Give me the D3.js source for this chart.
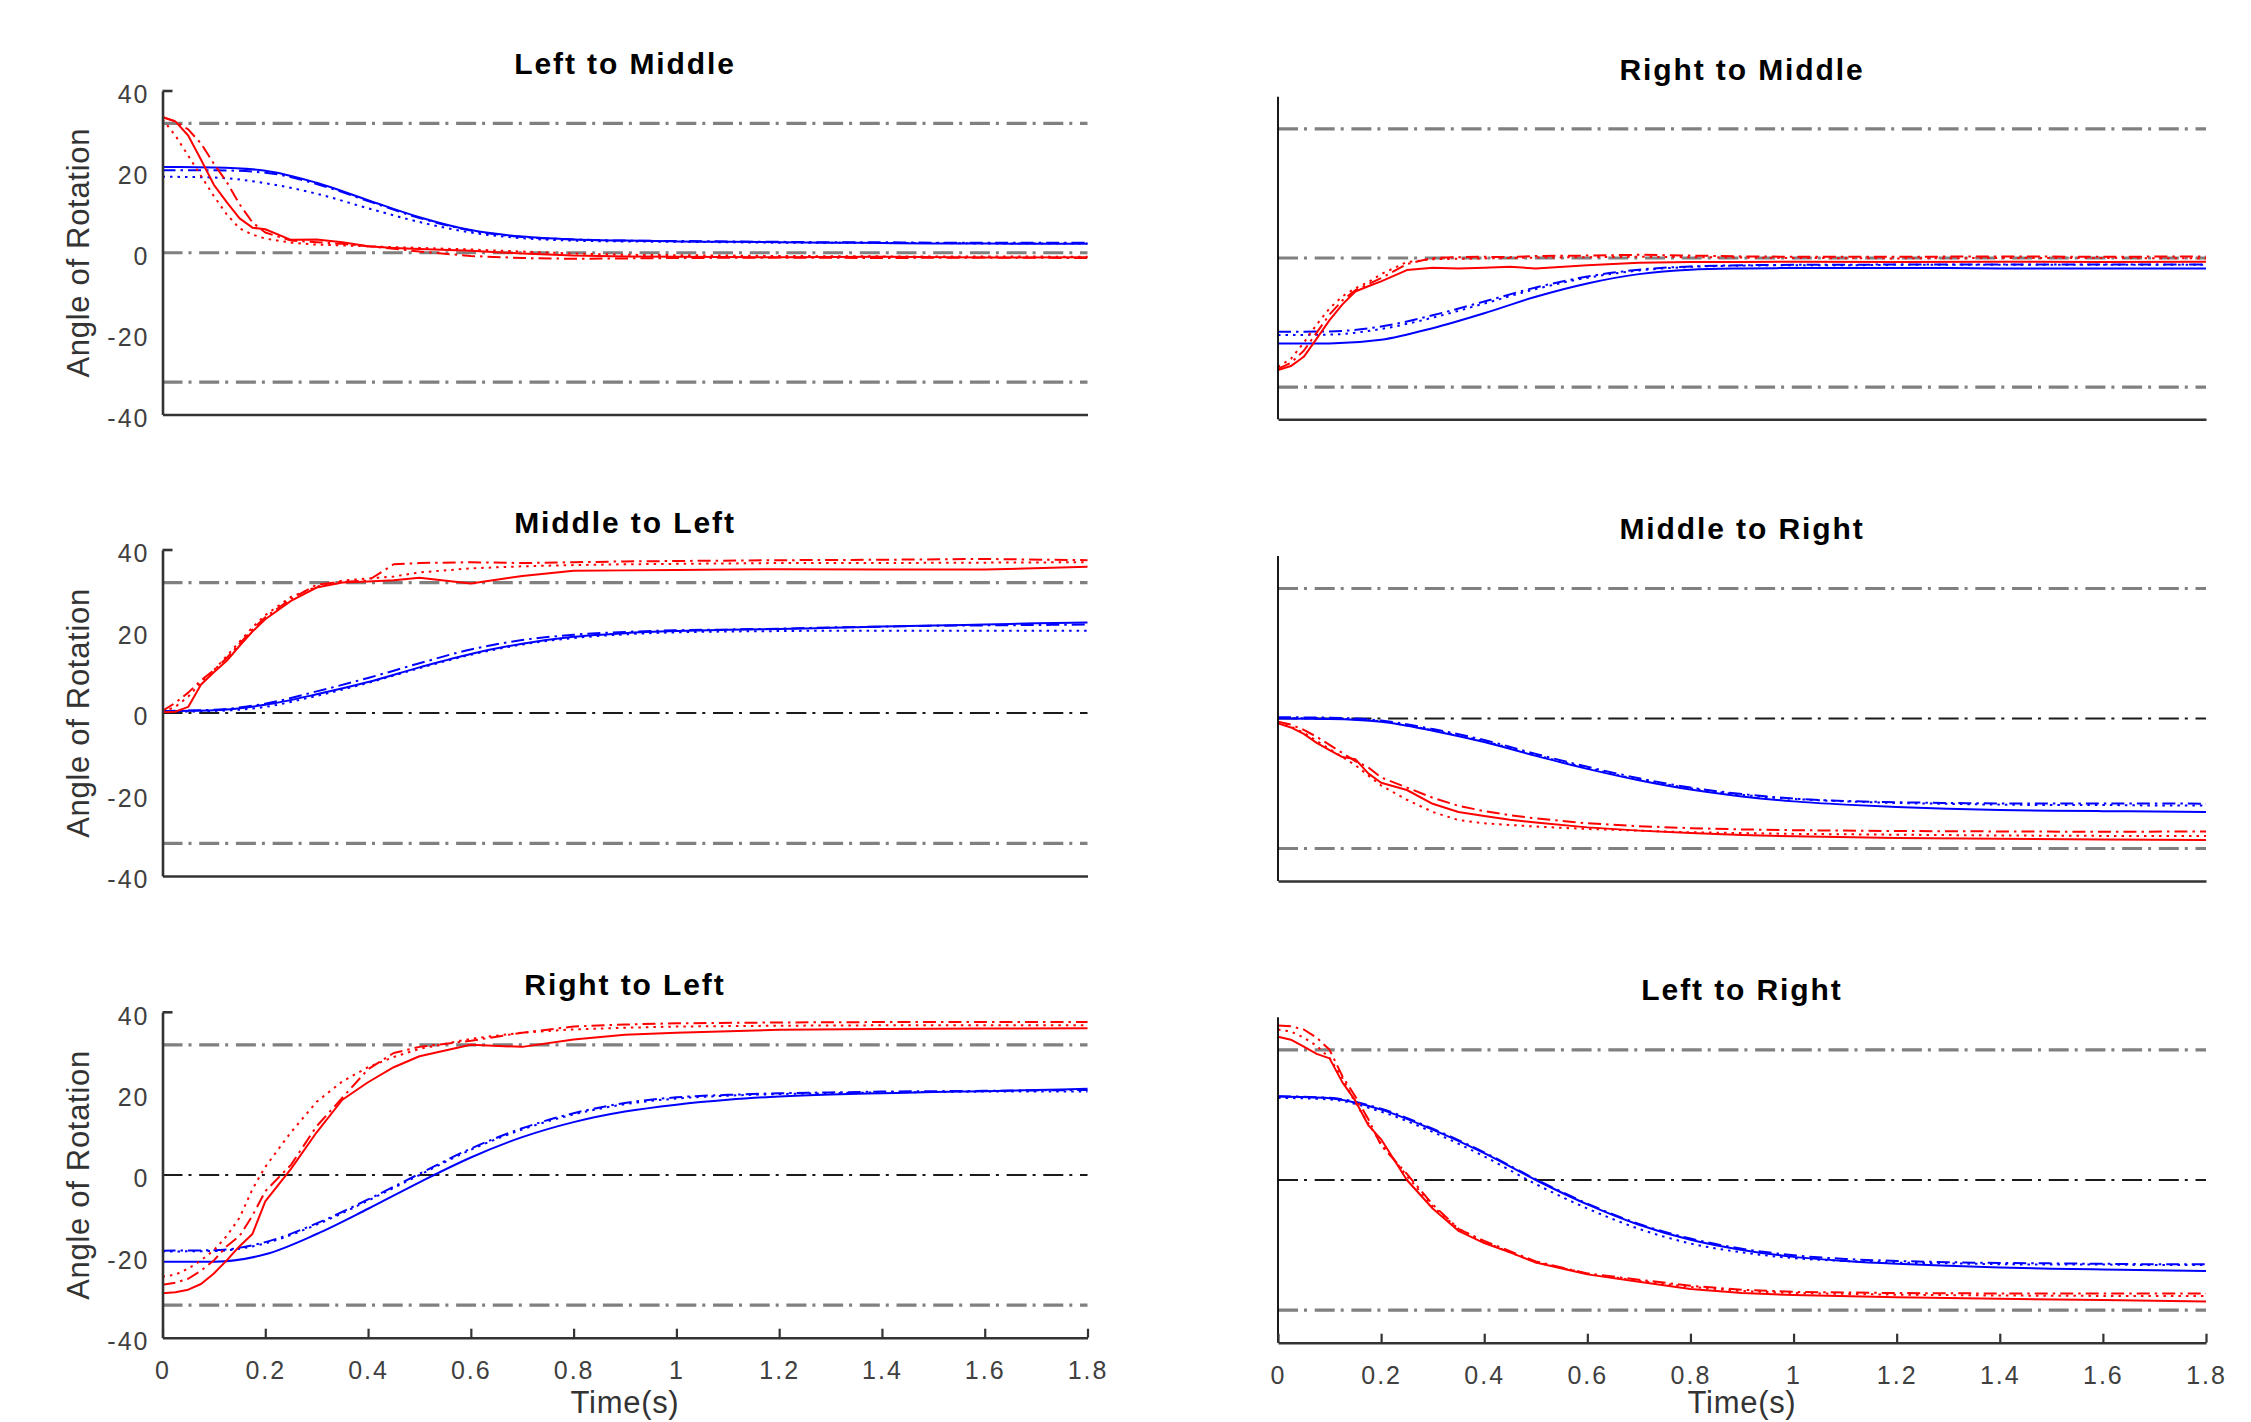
<!DOCTYPE html>
<html><head><meta charset="utf-8">
<script src="https://cdn.jsdelivr.net/npm/d3@7"></script>
<style>html,body{margin:0;padding:0;background:#fff;overflow:hidden}svg{display:block}</style>
</head><body><svg id="c" width="2251" height="1422"></svg>
<script>
// ---------- data ----------
const titles = ["Left to Middle","Right to Middle","Middle to Left","Middle to Right","Right to Left","Left to Right"];
const yTickValues = [-40,-20,0,20,40];
const xTickValues = [0,0.2,0.4,0.6,0.8,1,1.2,1.4,1.6,1.8];
const refLevels = [32,0,-32];
const timeBlue = [0,0.1,0.2,0.3,0.4,0.5,0.6,0.7,0.8,0.9,1.0,1.1,1.2,1.3,1.4,1.5,1.6,1.7,1.8];
const timeRed = [0,0.025,0.05,0.075,0.1,0.125,0.15,0.175,0.2,0.25,0.3,0.35,0.4,0.45,0.5,0.6,0.7,0.8,0.9,1.0,1.2,1.4,1.6,1.8];

// Left to Middle
const lmBlueSolid   = [21.2,21.1,20.3,17.3,13.0,8.8,5.6,4.0,3.3,3.0,2.8,2.7,2.6,2.5,2.4,2.3,2.3,2.2,2.2];
const lmBlueDashDot = [20.4,20.4,19.8,17.0,12.8,8.6,5.5,3.9,3.3,3.0,2.9,2.8,2.7,2.6,2.6,2.5,2.5,2.5,2.5];
const lmBlueDotted  = [18.8,18.6,17.2,14.6,11.0,7.6,5.0,3.6,3.0,2.8,2.7,2.6,2.5,2.5,2.4,2.4,2.3,2.3,2.3];
const lmRedSolid    = [33.6,32.5,29.0,23.0,16.8,12.5,8.5,6.2,5.8,3.2,3.3,2.6,1.6,1.2,0.9,0.5,-0.2,-0.7,-0.9,-1.0,-1.1,-1.0,-1.2,-1.1];
const lmRedDashDot  = [33.5,32.5,30.5,27.0,22.0,17.5,12.0,7.5,5.0,3.0,2.6,2.2,1.6,1.0,0.3,-0.8,-1.3,-1.5,-1.4,-1.3,-1.2,-1.3,-1.2,-1.3];
const lmRedDotted   = [33.0,29.0,24.0,19.0,14.0,9.5,6.0,4.5,3.5,2.5,2.0,1.8,1.6,1.4,1.2,0.8,0.3,-0.2,-0.5,-0.6,-0.8,-0.9,-0.9,-1.0];

// Right to Middle
const rmBlueSolid   = [-21.2,-21.2,-20.3,-17.4,-13.7,-9.6,-6.3,-4.0,-2.9,-2.6,-2.5,-2.5,-2.5,-2.5,-2.6,-2.6,-2.6,-2.6,-2.6];
const rmBlueDashDot = [-18.3,-18.2,-17.0,-14.2,-10.8,-7.3,-4.6,-2.9,-2.1,-1.8,-1.7,-1.7,-1.6,-1.6,-1.6,-1.6,-1.6,-1.6,-1.6];
const rmBlueDotted  = [-19.1,-19.0,-17.6,-14.8,-11.3,-7.7,-4.9,-3.1,-2.2,-1.9,-1.8,-1.8,-1.7,-1.7,-1.7,-1.7,-1.7,-1.7,-1.7];
const rmRedSolid    = [-27.8,-26.8,-24.5,-20.0,-15.4,-11.5,-8.3,-7.0,-5.8,-3.0,-2.4,-2.6,-2.4,-2.2,-2.6,-1.8,-1.2,-1.0,-1.0,-0.9,-1.0,-0.9,-1.0,-0.9];
const rmRedDashDot  = [-27.5,-26.0,-23.0,-18.5,-14.0,-10.5,-8.0,-6.5,-5.0,-1.5,0.0,0.2,0.3,0.2,0.5,0.6,0.8,0.6,0.4,0.3,0.3,0.4,0.3,0.4];
const rmRedDotted   = [-27.0,-25.0,-21.0,-16.5,-12.5,-9.5,-7.5,-6.0,-4.0,-1.0,-0.3,-0.2,-0.1,0.0,0.1,0.2,0.3,0.2,0.1,0.0,-0.1,0.0,0.0,-0.1];

// Middle to Left
const mlBlueSolid   = [0.5,0.7,2.0,4.6,7.6,11.2,14.5,17.0,18.7,19.6,20.1,20.4,20.6,20.9,21.2,21.5,21.7,22.0,22.2];
const mlBlueDashDot = [0.5,0.8,2.3,5.3,8.6,12.2,15.6,17.9,19.2,19.9,20.3,20.5,20.7,21.0,21.2,21.4,21.5,21.6,21.7];
const mlBlueDotted  = [0.3,0.5,1.5,4.2,7.4,11.0,14.3,16.8,18.4,19.3,19.8,20.0,20.1,20.2,20.2,20.2,20.2,20.2,20.2];
const mlRedSolid    = [0.2,0.3,1.5,7.0,10.0,12.8,16.5,20.0,23.0,27.5,30.8,32.0,32.3,32.6,33.2,31.8,33.6,34.9,35.0,35.1,35.3,35.2,35.2,35.9];
const mlRedDashDot  = [0.5,2.5,5.0,8.0,10.5,13.5,17.0,20.5,23.5,28.0,31.5,32.2,32.5,36.5,36.8,37.0,36.8,37.0,37.2,37.3,37.5,37.6,37.8,37.5];
const mlRedDotted   = [0.3,1.5,4.0,7.5,10.5,14.0,17.5,21.0,24.0,28.5,31.0,32.5,33.0,33.5,34.5,35.5,36.0,36.3,36.5,36.6,36.8,36.8,36.9,37.0];

// Middle to Right
const mrBlueSolid   = [0.0,-0.1,-0.8,-3.0,-5.8,-9.2,-12.4,-15.2,-17.5,-19.2,-20.4,-21.2,-21.8,-22.2,-22.5,-22.7,-22.8,-22.9,-23.0];
const mrBlueDashDot = [0.3,0.2,-0.5,-2.6,-5.3,-8.7,-11.9,-14.7,-17.0,-18.6,-19.7,-20.3,-20.6,-20.8,-20.9,-20.9,-20.9,-20.9,-21.0];
const mrBlueDotted  = [0.1,0.0,-0.7,-2.9,-5.6,-9.0,-12.2,-15.0,-17.2,-18.8,-19.8,-20.4,-20.8,-21.0,-21.2,-21.3,-21.3,-21.4,-21.4];
const mrRedSolid    = [-1.2,-2.2,-3.8,-6.0,-7.8,-9.5,-10.0,-13.5,-15.8,-17.6,-21.0,-23.0,-24.0,-24.9,-25.6,-26.8,-27.6,-28.2,-28.7,-29.0,-29.4,-29.6,-29.8,-29.9];
const mrRedDashDot  = [-0.8,-1.5,-2.8,-4.5,-6.5,-8.5,-10.5,-12.0,-14.5,-17.0,-19.5,-21.5,-22.8,-23.8,-24.6,-25.8,-26.5,-27.0,-27.3,-27.5,-27.7,-27.8,-27.9,-27.8];
const mrRedDotted   = [-1.0,-2.0,-3.5,-5.5,-7.5,-9.5,-11.5,-14.0,-16.5,-20.0,-23.0,-25.0,-25.8,-26.2,-26.6,-27.2,-27.6,-28.0,-28.2,-28.4,-28.6,-28.8,-28.9,-28.9];

// Right to Left
const rlBlueSolid   = [-21.3,-21.3,-19.5,-14.5,-8.3,-1.8,4.3,9.3,13.0,15.6,17.3,18.5,19.3,19.8,20.1,20.4,20.6,20.9,21.2];
const rlBlueDashDot = [-18.6,-18.5,-16.5,-11.9,-6.0,0.3,6.5,11.5,15.2,17.7,19.1,19.7,20.1,20.3,20.5,20.6,20.7,20.8,20.9];
const rlBlueDotted  = [-18.8,-18.7,-16.8,-12.2,-6.3,0.0,6.2,11.2,14.9,17.4,18.8,19.5,19.9,20.1,20.3,20.4,20.5,20.5,20.5];
const rlRedSolid    = [-29.1,-28.8,-28.2,-26.8,-24.2,-21.0,-17.5,-14.5,-6.5,1.5,10.5,18.5,22.8,26.5,29.2,32.0,31.5,33.3,34.5,35.0,35.7,35.9,36.0,36.1];
const rlRedDashDot  = [-27.0,-26.5,-25.5,-23.5,-21.0,-17.5,-15.0,-10.0,-4.0,2.5,12.0,19.0,26.0,30.0,31.5,33.0,35.0,36.5,37.0,37.3,37.5,37.6,37.6,37.6];
const rlRedDotted   = [-25.0,-24.5,-23.0,-21.0,-18.5,-15.0,-10.5,-3.5,2.0,10.5,18.0,23.0,26.5,29.0,31.0,33.5,35.0,35.8,36.2,36.5,36.7,36.8,36.8,36.8];

// Left to Right
const lrBlueSolid   = [20.5,20.1,17.3,12.4,6.6,0.0,-6.0,-11.0,-14.7,-17.2,-18.9,-19.9,-20.6,-21.1,-21.5,-21.8,-22.0,-22.2,-22.4];
const lrBlueDashDot = [20.6,20.2,17.5,12.6,6.8,0.2,-5.8,-10.8,-14.4,-16.9,-18.5,-19.4,-19.9,-20.2,-20.4,-20.5,-20.6,-20.7,-20.7];
const lrBlueDotted  = [20.2,19.8,16.8,11.8,5.8,-1.0,-7.0,-12.0,-15.6,-17.8,-19.2,-19.9,-20.3,-20.5,-20.7,-20.8,-20.8,-20.9,-20.9];
const lrRedSolid    = [35.2,34.5,32.8,31.0,29.9,24.0,19.5,13.5,10.0,0.0,-7.0,-12.5,-15.5,-17.8,-20.3,-23.2,-25.0,-26.8,-27.8,-28.3,-28.8,-29.2,-29.5,-29.9];
const lrRedDashDot  = [38.0,37.8,37.0,35.0,32.0,25.5,20.5,15.0,8.5,1.5,-6.0,-12.0,-15.0,-17.5,-20.0,-23.0,-24.5,-26.0,-27.0,-27.5,-27.8,-27.9,-27.9,-27.9];
const lrRedDotted   = [37.0,36.5,35.0,33.0,30.0,25.0,19.0,14.0,9.0,1.0,-6.5,-12.0,-15.2,-17.8,-20.2,-23.0,-24.8,-26.3,-27.3,-27.8,-28.2,-28.4,-28.5,-28.5];

const panelSeries = [
  [lmBlueSolid,lmBlueDashDot,lmBlueDotted,lmRedSolid,lmRedDashDot,lmRedDotted],
  [rmBlueSolid,rmBlueDashDot,rmBlueDotted,rmRedSolid,rmRedDashDot,rmRedDotted],
  [mlBlueSolid,mlBlueDashDot,mlBlueDotted,mlRedSolid,mlRedDashDot,mlRedDotted],
  [mrBlueSolid,mrBlueDashDot,mrBlueDotted,mrRedSolid,mrRedDashDot,mrRedDotted],
  [rlBlueSolid,rlBlueDashDot,rlBlueDotted,rlRedSolid,rlRedDashDot,rlRedDotted],
  [lrBlueSolid,lrBlueDashDot,lrBlueDotted,lrRedSolid,lrRedDashDot,lrRedDotted]
];

// ---------- layout / styles ----------
const layout = [
  {x0:162.5,x1:1087.5,y0:91,   y1:414.5, left:true,  bottom:false, zeroDark:false},
  {x0:1278, x1:2206,  y0:96.7, y1:419.3, left:false, bottom:false, zeroDark:false},
  {x0:162.5,x1:1087.5,y0:550,  y1:876,   left:true,  bottom:false, zeroDark:true},
  {x0:1278, x1:2206,  y0:556,  y1:881,   left:false, bottom:false, zeroDark:true},
  {x0:162.5,x1:1087.5,y0:1012.3,y1:1337.7,left:true, bottom:true,  zeroDark:true},
  {x0:1278, x1:2206,  y0:1017.3,y1:1342.7,left:false,bottom:true,  zeroDark:true}
];
const seriesStyle = [
  {color:"#0000ff", dash:null,        blue:true},
  {color:"#0000ff", dash:"13 5 2.5 5", blue:true},
  {color:"#0000ff", dash:"2.5 5",     blue:true},
  {color:"#ff0000", dash:null,        blue:false},
  {color:"#ff0000", dash:"13 5 2.5 5", blue:false},
  {color:"#ff0000", dash:"2.5 5",     blue:false}
];
const FONT = "'Liberation Sans', Arial, Helvetica, sans-serif";

const svg = d3.select("#c");
svg.append("rect").attr("width",2251).attr("height",1422).attr("fill","#fff");

layout.forEach((L, i) => {
  const x = d3.scaleLinear().domain([0,1.8]).range([L.x0, L.x1]);
  const y = d3.scaleLinear().domain([-40,40]).range([L.y1, L.y0]);
  const g = svg.append("g");

  // reference dash-dot lines
  refLevels.forEach(v => {
    const dark = (v === 0 && L.zeroDark);
    g.append("line")
      .attr("x1", x(0)).attr("x2", x(1.8))
      .attr("y1", y(v)).attr("y2", y(v))
      .attr("stroke", dark ? "#1a1a1a" : "#808080")
      .attr("stroke-width", dark ? 2.2 : 3.2)
      .attr("stroke-dasharray", "20 6 3 7.7");
  });

  // data series
  panelSeries[i].forEach((vals, k) => {
    const st = seriesStyle[k];
    const t = st.blue ? timeBlue : timeRed;
    const line = d3.line()
      .x(d => x(d[0])).y(d => y(d[1]))
      .curve(st.blue ? d3.curveMonotoneX : d3.curveLinear);
    g.append("path")
      .attr("d", line(t.map((tt, j) => [tt, vals[j]])))
      .attr("fill", "none")
      .attr("stroke", st.color)
      .attr("stroke-width", 2)
      .attr("stroke-linejoin", "round")
      .attr("stroke-dasharray", st.dash);
  });

  // y axis
  if (L.left) {
    const ya = g.append("g").attr("transform", `translate(${L.x0},0)`)
      .call(d3.axisLeft(y).tickValues(yTickValues).tickSize(0).tickSizeOuter(0).tickPadding(13).tickFormat(d => String(d)));
    ya.select(".domain").attr("stroke", "#333").attr("stroke-width", 2.6);
    ya.selectAll("text").attr("font-family", FONT).attr("font-size", 25)
      .attr("fill", "#404040").attr("letter-spacing", "2px").attr("dy", "0.47em");
    g.append("line").attr("x1", L.x0).attr("x2", L.x0 + 10)
      .attr("y1", y(40)).attr("y2", y(40)).attr("stroke", "#333").attr("stroke-width", 2.6);
    g.append("text")
      .attr("transform", `translate(78,${(L.y0 + L.y1) / 2}) rotate(-90)`)
      .attr("text-anchor", "middle").attr("dominant-baseline", "central")
      .attr("font-family", FONT).attr("font-size", 31).attr("letter-spacing", "0.7px")
      .attr("fill", "#333").text("Angle of Rotation");
  } else {
    g.append("line").attr("x1", L.x0).attr("x2", L.x0)
      .attr("y1", L.y0).attr("y2", L.y1).attr("stroke", "#000").attr("stroke-width", 1.8);
  }

  // x axis
  const xa = g.append("g").attr("transform", `translate(0,${L.y1})`)
    .call(d3.axisBottom(x).tickValues(L.bottom ? xTickValues : []).tickSizeInner(-9).tickSizeOuter(0).tickPadding(24).tickFormat(d => String(d)));
  xa.select(".domain").attr("stroke", "#333").attr("stroke-width", 2.6);
  xa.selectAll(".tick line").attr("stroke", "#333").attr("stroke-width", 2.2);
  xa.selectAll("text").attr("font-family", FONT).attr("font-size", 25)
    .attr("fill", "#404040").attr("letter-spacing", "2px");

  if (L.bottom) {
    g.append("text").attr("x", (L.x0 + L.x1) / 2).attr("y", 1413)
      .attr("text-anchor", "middle").attr("font-family", FONT).attr("font-size", 31)
      .attr("letter-spacing", "0.7px").attr("fill", "#333").text("Time(s)");
  }

  // title
  g.append("text").attr("x", (L.x0 + L.x1) / 2).attr("y", L.y0 - 17)
    .attr("text-anchor", "middle").attr("font-family", FONT).attr("font-weight", "bold")
    .attr("font-size", 30).attr("letter-spacing", "1.9px").attr("fill", "#000").text(titles[i]);
});
</script>
</body></html>
